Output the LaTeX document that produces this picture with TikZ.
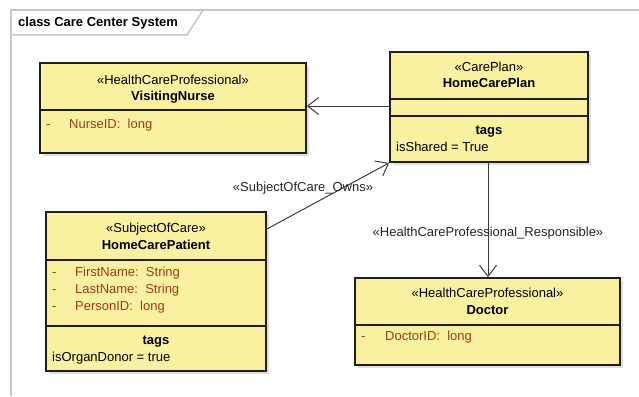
\documentclass[tikz,border=0pt]{standalone}
\usepackage{fontspec}
\setmainfont{Liberation Sans}
\usetikzlibrary{arrows.meta,shadows}
\definecolor{boxfill}{RGB}{249,240,160}
\definecolor{attrcol}{RGB}{155,60,30}
\definecolor{framecol}{RGB}{200,200,200}
\definecolor{edgecol}{RGB}{60,60,60}
\begin{document}
\begin{tikzpicture}[x=1pt,y=-1pt,
  every node/.style={font=\fontsize{13}{15}\selectfont, inner sep=0pt, text height=12pt, text depth=2.7pt},
  umlbox/.style={draw=black!88, line width=1.8pt, fill=boxfill, rectangle,
    drop shadow={shadow xshift=2.5pt, shadow yshift=-2.5pt, opacity=0.25}},
  divider/.style={draw=black!88, line width=1.4pt},
  stereo/.style={anchor=center},
  cname/.style={anchor=center, font=\fontsize{13}{15}\selectfont\bfseries},
  attr/.style={anchor=west, text=attrcol},
  tagtxt/.style={anchor=west, text=black},
  assoc/.style={draw=edgecol, line width=1pt, -{Straight Barb[length=11pt,width=17pt,line width=1pt]}},
  lbl/.style={anchor=center, text=black!85}
]
\useasboundingbox[fill=white] (0,0) rectangle (639,396);
% frame
\draw[framecol, line width=1.5pt] (11,396) -- (11,10) -- (639,10);
\draw[framecol, line width=1.5pt] (11,35) -- (187,35) -- (203,10);
\node[anchor=west, font=\fontsize{13}{15}\selectfont\bfseries] (title) at (18,22) {class Care Center System};

% VisitingNurse
\node[umlbox, minimum width=266pt, minimum height=90pt] (nurse) at (173,108) {};
\draw[divider] (nurse.west |- 0,110) -- (nurse.east |- 0,110);
\node[stereo] (nurseS) at (173,80) {«HealthCareProfessional»};
\node[cname] (nurseN) at (173,96) {VisitingNurse};
\node[attr] (nurseD) at (46,124) {-};
\node[attr] (nurseA) at (69,124) {NurseID:\ \ long};

% HomeCarePlan
\node[umlbox, minimum width=198pt, minimum height=110pt] (plan) at (489,107) {};
\draw[divider] (plan.west |- 0,99) -- (plan.east |- 0,99);
\draw[divider] (plan.west |- 0,116) -- (plan.east |- 0,116);
\node[stereo] (planS) at (489,67) {«CarePlan»};
\node[cname] (planN) at (489,83) {HomeCarePlan};
\node[cname] (planT) at (489,130) {tags};
\node[tagtxt] (planV) at (396,147) {isShared = True};

% HomeCarePatient
\node[umlbox, minimum width=220pt, minimum height=159pt] (patient) at (156,291.5) {};
\draw[divider] (patient.west |- 0,260) -- (patient.east |- 0,260);
\draw[divider] (patient.west |- 0,326) -- (patient.east |- 0,326);
\node[stereo] (patS) at (156,228) {«SubjectOfCare»};
\node[cname] (patN) at (156,245) {HomeCarePatient};
\node[attr] (patD1) at (52,272) {-};
\node[attr] (patA1) at (75,272) {FirstName:\ \ String};
\node[attr] (patD2) at (52,289) {-};
\node[attr] (patA2) at (75,289) {LastName:\ \ String};
\node[attr] (patD3) at (52,306) {-};
\node[attr] (patA3) at (75,306) {PersonID:\ \ long};
\node[cname] (patT) at (156,340) {tags};
\node[tagtxt] (patV) at (52,357) {isOrganDonor = true};

% Doctor
\node[umlbox, minimum width=265pt, minimum height=87pt] (doctor) at (487.5,321.5) {};
\draw[divider] (doctor.west |- 0,325) -- (doctor.east |- 0,325);
\node[stereo] (docS) at (487.5,293) {«HealthCareProfessional»};
\node[cname] (docN) at (487.5,310) {Doctor};
\node[attr] (docD) at (361,336) {-};
\node[attr] (docA) at (385,336) {DoctorID:\ \ long};

% connectors
\draw[assoc] (plan.west |- 0,106) -- (nurse.east |- 0,106);
\draw[assoc] (patient.east |- 0,229) -- (plan.south west);
\draw[assoc] (plan.south -| 488,0) -- (doctor.north -| 488,0);
\node[lbl] (ownsL) at (303,187) {«SubjectOfCare\_Owns»};
\node[lbl] (respL) at (488,232) {«HealthCareProfessional\_Responsible»};
\end{tikzpicture}
\end{document}
